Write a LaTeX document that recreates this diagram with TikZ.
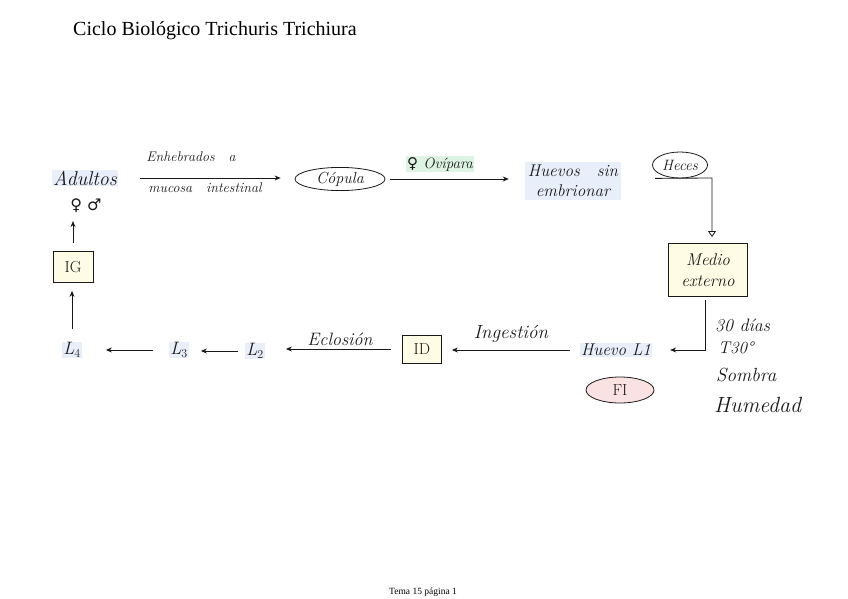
\documentclass[tikz,border=0pt]{standalone}
\usepackage{fontspec}
\newfontfamily\titlefont{Liberation Serif}
\newfontfamily\symfont{DejaVu Sans}
\usetikzlibrary{arrows.meta,shapes.geometric}
\definecolor{hlblue}{RGB}{232,238,250}
\definecolor{hlgreen}{RGB}{222,244,226}
\definecolor{boxyellow}{RGB}{255,252,230}
\definecolor{fipink}{RGB}{250,226,226}
\definecolor{ink}{RGB}{25,25,25}
\begin{document}
\begin{tikzpicture}[x=1pt,y=-1pt,
  hw/.style={font=\itshape\fontsize{#1}{#1}\selectfont, inner sep=1pt, text=ink},
  hw/.default=14,
  boxnode/.style={draw=ink, line width=0.8pt, fill=boxyellow, inner sep=2pt,
    font=\fontsize{16}{16}\selectfont, text=ink},
  ellnode/.style={ellipse, draw=ink, line width=0.8pt, inner sep=0pt, text=ink},
  ar/.style={draw=ink, line width=0.8pt, -{Stealth[length=6pt,width=5pt]}},
  symtext/.style={font=\symfont\fontsize{13}{13}\selectfont, inner sep=1pt, text=ink}
]
\useasboundingbox (0,0) rectangle (848,599);

% title and footer
\node[anchor=base west, font=\titlefont\fontsize{20}{22}\selectfont, inner sep=0pt] (title) at (73,36) {Ciclo Biológico Trichuris Trichiura};
\node[font=\titlefont\fontsize{9.5}{11}\selectfont, inner sep=0pt] (footer) at (423,592) {Tema 15 página 1};

% top row
\node[hw=20, fill=hlblue] (adultos) at (85,178) {Adultos};
\node[symtext, font=\symfont\fontsize{16}{16}\selectfont] (sex) at (86,206) {♀ ♂};
\node[boxnode, minimum width=40pt, minimum height=31pt] (ig) at (73,267) {IG};

\node[ellnode, hw=16, minimum width=90pt, minimum height=22pt, draw=ink, line width=0.8pt] (copula) at (340,179) {Cópula};
\node[hw=17, fill=hlblue, align=center, inner sep=3pt] (huevos) at (573,181) {Huevos\quad sin\\[3pt] embrionar};
\node[ellnode, hw=15, minimum width=55pt, minimum height=26pt, draw=ink, line width=0.8pt] (heces) at (680,165) {Heces};

\node[boxnode, hw=17, draw=ink, line width=0.8pt, fill=boxyellow, minimum width=79pt, minimum height=53pt, align=center] (medio) at (708,270) {Medio\\[4pt] externo};

% labels of top arrows
\node[hw=14] (lab1) at (191,157) {Enhebrados\quad a};
\node[hw=14] (lab2) at (205,188) {mucosa\quad intestinal};
\node[font=\itshape\fontsize{15}{15}\selectfont, fill=hlgreen, inner sep=1pt, text=ink] (lab3) at (440,164) {{\symfont\upshape ♀} Ovípara};

% bottom row
\node[hw=18, fill=hlblue] (l4) at (72,350) {L$_4$};
\node[hw=18, fill=hlblue] (l3) at (179,350) {L$_3$};
\node[hw=18, fill=hlblue] (l2) at (255,351) {L$_2$};
\node[boxnode, minimum width=39pt, minimum height=28pt] (id) at (422,349) {ID};
\node[hw=17, fill=hlblue] (huevol1) at (616,350) {Huevo L1};
\node[ellnode, fill=fipink, minimum width=68pt, minimum height=26pt, font=\fontsize{16}{16}\selectfont] (fi) at (620,390) {FI};

\node[hw=18] (lab4) at (340,339) {Eclosión};
\node[hw=19] (lab5) at (511,334) {Ingestión};

% conditions
\node[hw=18, anchor=west] (c1) at (714,325) {30 días};
\node[hw=17, anchor=west] (c2) at (717,348) {T30°};
\node[hw=19, anchor=west] (c3) at (715,375) {Sombra};
\node[hw=22, anchor=west] (c4) at (713,405) {Humedad};

% connectors top
\draw[ar, shorten <=22pt, shorten >=14pt] (adultos.east) -- (adultos.east -| copula.west);
\draw[ar, shorten <=5pt, shorten >=16pt] (copula.east) -- (copula.east -| huevos.west);
\coordinate (hk) at (712,178);
\draw[draw=ink, line width=0.8pt, -{Triangle[open,length=6pt,width=8pt]}, shorten >=6pt] ([xshift=-25pt]heces.south) -- (hk) -- (hk |- medio.north);

% connectors bottom
\draw[ar, shorten <=3pt, shorten >=18pt] ([xshift=-3pt]medio.south) |- (huevol1.east);
\draw[ar, shorten <=10pt, shorten >=10pt] (huevol1.west) -- (huevol1.west -| id.east);
\draw[ar, shorten <=11pt, shorten >=21pt] (id.west) -- (id.west -| l2.east);
\draw[ar, shorten <=7pt, shorten >=12pt] (l2.west) -- (l2.west -| l3.east);
\draw[ar, shorten <=16pt, shorten >=24pt] (l3.west) -- (l3.west -| l4.east);
\draw[ar, shorten <=12pt, shorten >=8pt] (l4.north) -- (l4.north |- ig.south);
\draw[ar, shorten <=8pt, shorten >=7pt] (ig.north) -- (ig.north |- sex.south);
\end{tikzpicture}
\end{document}
